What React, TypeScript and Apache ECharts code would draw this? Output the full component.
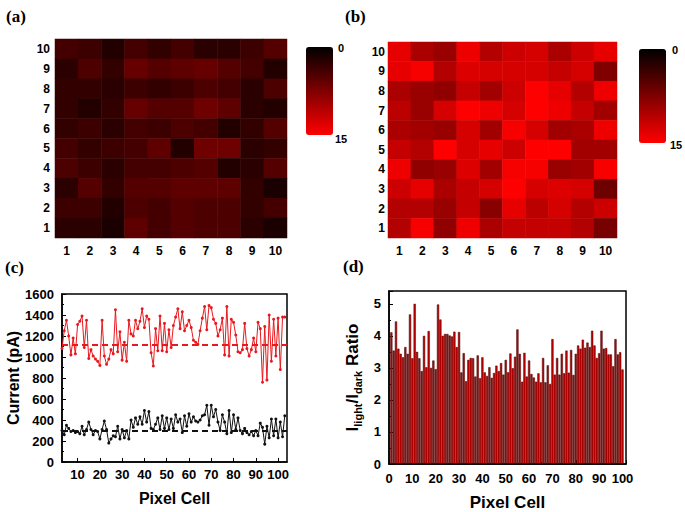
import React, { useEffect, useRef } from 'react';
import * as echarts from 'echarts';

const FONT = '"Liberation Sans", Arial, sans-serif';
const SERIF = '"Liberation Serif", "Times New Roman", serif';

const cellLabels = ['1', '2', '3', '4', '5', '6', '7', '8', '9', '10'];

// rows listed from top (row 10) down to row 1
const darkMap = [
  [4.0, 3.5, 2.0, 4.0, 3.0, 4.0, 2.5, 2.5, 3.5, 5.0],
  [2.5, 4.5, 3.0, 6.0, 5.0, 5.5, 6.0, 5.0, 4.0, 2.0],
  [3.0, 3.0, 2.5, 3.5, 3.0, 3.5, 4.5, 4.0, 2.5, 4.5],
  [3.0, 2.0, 3.0, 6.0, 5.0, 5.0, 6.5, 5.5, 2.5, 2.0],
  [3.0, 3.5, 2.5, 4.0, 3.5, 4.5, 4.0, 2.0, 3.0, 5.0],
  [4.0, 3.0, 3.5, 4.0, 5.5, 2.0, 6.5, 6.5, 2.5, 3.0],
  [4.5, 3.5, 2.5, 4.0, 4.0, 4.5, 5.0, 2.0, 2.5, 5.0],
  [2.5, 5.0, 3.0, 5.0, 5.0, 5.5, 5.5, 5.5, 3.0, 1.5],
  [3.5, 3.5, 2.0, 4.5, 4.0, 5.0, 4.5, 4.5, 3.0, 4.0],
  [2.5, 2.5, 1.5, 5.5, 4.0, 5.0, 4.5, 4.5, 2.5, 1.5],
];

const lightMap = [
  [13.5, 10.0, 9.0, 14.0, 10.5, 12.0, 12.5, 10.0, 12.0, 13.5],
  [13.5, 14.5, 10.5, 13.0, 12.5, 12.5, 12.5, 11.5, 12.5, 7.5],
  [10.0, 9.0, 8.5, 11.5, 9.5, 12.0, 15.0, 13.5, 10.5, 14.0],
  [11.0, 9.0, 12.5, 15.0, 14.0, 12.5, 15.0, 14.0, 11.5, 9.5],
  [10.0, 9.5, 9.0, 12.5, 9.5, 14.5, 12.5, 9.5, 10.0, 14.0],
  [11.5, 10.5, 15.0, 12.5, 13.5, 12.0, 15.0, 15.0, 9.5, 9.5],
  [14.0, 8.5, 9.0, 13.0, 9.5, 14.5, 14.5, 9.0, 9.5, 14.5],
  [12.0, 13.5, 10.0, 11.5, 12.5, 15.0, 12.5, 13.0, 12.5, 6.5],
  [10.5, 10.5, 9.0, 11.5, 8.0, 13.5, 11.0, 12.5, 10.5, 12.0],
  [10.5, 14.5, 8.5, 14.0, 10.0, 11.5, 11.5, 11.5, 10.5, 7.0],
];

const firstPixelC = 3;
const lightCurrent = [
  1080, 1250, 1350, 1200, 1020, 1180, 1030, 1310, 1340, 1390,
  1090, 1350, 985, 1070, 1010, 980, 960, 920, 1350, 1010,
  930, 980, 1070, 1030, 1450, 1050, 1240, 970, 1140, 960,
  1350, 1220, 1200, 1350, 1270, 1340, 1460, 1280, 1390, 1360,
  1040, 915, 1270, 1060, 1390, 1060, 1320, 1050, 1260, 1090,
  1300, 1380, 1460, 1270, 1430, 1250, 1300, 1350, 1280, 1160,
  1140, 1120, 1250, 1370, 1480, 1260, 1490, 1470, 1360, 1320,
  1200, 1260, 1370, 1020, 1480, 1010, 1360, 1330, 1210, 1050,
  1040, 1070, 1320, 1080, 1010, 1070, 1180, 1050, 1330, 1270,
  760, 1290, 780, 1400, 960, 1360, 1010, 1370, 880, 1380,
  1380,
];
const darkCurrent = [
  300, 260, 350, 320, 290, 300, 280, 290, 270, 340,
  260, 310, 380, 310, 260, 300, 290, 220, 310, 390,
  310, 180, 220, 250, 240, 340, 220, 310, 230, 300,
  220, 400, 330, 420, 360, 430, 360, 490, 380, 480,
  320, 310, 360, 420, 310, 440, 320, 420, 310, 410,
  320, 450, 380, 410, 280, 440, 340, 460, 380, 430,
  390, 380, 400, 440, 450, 540, 350, 540, 430, 500,
  380, 300, 450, 380, 270, 490, 280, 450, 310, 420,
  300, 270, 320, 280, 260, 290, 250, 300, 250, 370,
  330, 170, 340, 230, 410, 250, 410, 230, 380, 240,
  440,
];
const lightMean = 1120;
const darkMean = 300;
const pixelTicksC = [10, 20, 30, 40, 50, 60, 70, 80, 90, 100];

const ratio = [
  4.11, 3.54, 4.45, 3.6, 3.44, 3.33, 3.65, 3.44, 4.67, 3.3,
  5.0, 3.5, 3.3, 2.9, 4.0, 3.02, 4.15, 3.0, 3.23, 2.96,
  4.98, 4.51, 4.0, 4.06, 4.06, 4.01, 3.98, 4.13, 3.65, 4.12,
  2.86, 3.46, 2.58, 3.25, 3.31, 3.3, 2.73, 3.39, 2.68, 3.33,
  2.86, 2.75, 3.02, 2.69, 2.84, 3.07, 2.9, 3.15, 2.79, 3.25,
  2.86, 3.45, 2.99, 3.35, 4.2, 3.44, 2.57, 3.47, 2.73, 3.23,
  2.81, 2.7, 2.57, 2.83, 2.55, 3.31, 2.55, 3.08, 2.5, 3.9,
  2.79, 3.31, 2.79, 3.44, 2.83, 3.54, 2.85, 3.56, 2.78, 3.44,
  3.7, 3.6, 3.88, 3.63, 3.79, 3.65, 4.16, 3.7, 3.31, 3.46,
  4.16, 3.6, 3.62, 3.42, 3.42, 3.05, 3.9, 3.42, 3.49, 2.95,
];

function toCells(rows: number[][]) {
  const out: number[][] = [];
  rows.forEach((row, i) => {
    row.forEach((v, j) => out.push([j, 9 - i, v]));
  });
  return out;
}

const plain = (v: number) => String(v);
const tickLabel = { fontFamily: FONT, fontWeight: 'bold', fontSize: 13, color: '#000' };

function heatAxes(gi: number, xm: number, ym: number) {
  return {
    x: {
      type: 'category', gridIndex: gi, data: cellLabels,
      axisLine: { show: false }, axisTick: { show: false }, splitLine: { show: false },
      axisLabel: { ...tickLabel, fontSize: 12, margin: xm },
    },
    y: {
      type: 'category', gridIndex: gi, data: cellLabels,
      axisLine: { show: false }, axisTick: { show: false }, splitLine: { show: false },
      axisLabel: { ...tickLabel, fontSize: 12, margin: ym },
    },
  };
}

export default function App() {
  const ref = useRef<HTMLDivElement>(null);
  useEffect(() => {
    if (!ref.current) return;
    const chart = echarts.init(ref.current, undefined, { renderer: 'svg' });
    const ha = heatAxes(0, 7, 5);
    const hb = heatAxes(1, 7, 3);
    const lineData = (arr: number[]) => arr.map((v, i) => [firstPixelC + i, v]);
    const black = '#000';
    const frameAxisLine = { show: true, lineStyle: { color: black, width: 1.5 } };
    const option: any = {
      animation: false,
      textStyle: { fontFamily: FONT },
      grid: [
        { left: 55, top: 39, width: 232, height: 199 },
        { left: 388, top: 42, width: 229, height: 196 },
        { left: 62, top: 294, width: 225, height: 168, show: true, borderColor: black, borderWidth: 1.5 },
        { left: 389, top: 291, width: 237, height: 173, show: true, borderColor: black, borderWidth: 1.5 },
      ],
      xAxis: [
        ha.x,
        hb.x,
        {
          type: 'value', gridIndex: 2, min: 3, max: 104,
          axisLine: frameAxisLine,
          axisTick: { inside: true, length: 4, customValues: pixelTicksC, lineStyle: { color: black, width: 1 } },
          axisLabel: { ...tickLabel, margin: 6, customValues: pixelTicksC, formatter: plain },
          splitLine: { show: false },
          name: 'Pixel Cell', nameLocation: 'middle', nameGap: 28,
          nameTextStyle: { fontFamily: FONT, fontWeight: 'bold', fontSize: 16, color: black },
        },
        {
          type: 'value', gridIndex: 3, min: 0, max: 101.5, interval: 10,
          axisLine: frameAxisLine,
          axisTick: { inside: true, length: 4, lineStyle: { color: black, width: 1 } },
          minorTick: { show: true, splitNumber: 2, length: 2, lineStyle: { color: black } },
          axisLabel: { ...tickLabel, margin: 8, showMaxLabel: false, formatter: plain },
          splitLine: { show: false },
          name: 'Pixel Cell', nameLocation: 'middle', nameGap: 30,
          nameTextStyle: { fontFamily: FONT, fontWeight: 'bold', fontSize: 17, color: black },
        },
      ],
      yAxis: [
        ha.y,
        hb.y,
        {
          type: 'value', gridIndex: 2, min: 0, max: 1600, interval: 200,
          axisLine: frameAxisLine,
          axisTick: { inside: true, length: 4, lineStyle: { color: black, width: 1 } },
          minorTick: { show: true, splitNumber: 2, length: 2, lineStyle: { color: black } },
          axisLabel: { ...tickLabel, margin: 8, formatter: plain },
          splitLine: { show: false },
          name: 'Current (pA)', nameLocation: 'middle', nameGap: 40, nameRotate: 90,
          nameTextStyle: { fontFamily: FONT, fontWeight: 'bold', fontSize: 16, color: black },
        },
        {
          type: 'value', gridIndex: 3, min: 0, max: 5.4, interval: 1,
          axisLine: frameAxisLine,
          axisTick: { inside: true, length: 4, lineStyle: { color: black, width: 1 } },
          minorTick: { show: true, splitNumber: 2, length: 2, lineStyle: { color: black } },
          axisLabel: { ...tickLabel, margin: 8, showMaxLabel: false, formatter: plain },
          splitLine: { show: false },
          name: '{b|I}{s|light}{b|/I}{s|dark}{b| Ratio}', nameLocation: 'middle', nameGap: 26, nameRotate: 90,
          nameTextStyle: {
            fontFamily: FONT, fontWeight: 'bold', fontSize: 17, color: black,
            rich: {
              b: { fontFamily: FONT, fontWeight: 'bold', fontSize: 17, lineHeight: 22, color: black },
              s: { fontFamily: FONT, fontWeight: 'bold', fontSize: 11, lineHeight: 11, verticalAlign: 'bottom', color: black },
            },
          },
        },
      ],
      visualMap: [
        {
          type: 'continuous', seriesIndex: 0, min: 0, max: 15, inverse: true, calculable: false,
          left: 306, top: 47, itemWidth: 27, itemHeight: 88, padding: 0, text: null,
          inRange: { color: ['#000000', '#ff0000'] },
        },
        {
          type: 'continuous', seriesIndex: 1, min: 0, max: 15, inverse: true, calculable: false,
          left: 639, top: 49, itemWidth: 27, itemHeight: 94, padding: 0, text: null,
          inRange: { color: ['#000000', '#ff0000'] },
        },
      ],
      series: [
        { type: 'heatmap', xAxisIndex: 0, yAxisIndex: 0, data: toCells(darkMap), itemStyle: { borderWidth: 0 } },
        { type: 'heatmap', xAxisIndex: 1, yAxisIndex: 1, data: toCells(lightMap), itemStyle: { borderWidth: 0 } },
        {
          type: 'line', xAxisIndex: 2, yAxisIndex: 2, data: lineData(lightCurrent),
          symbol: 'circle', symbolSize: 3, lineStyle: { color: '#e8191e', width: 1 }, itemStyle: { color: '#e8191e' },
          markLine: {
            silent: true, symbol: ['none', 'none'], label: { show: false },
            lineStyle: { type: [6, 4], width: 2, color: '#e8191e' }, data: [{ yAxis: lightMean }],
          },
        },
        {
          type: 'line', xAxisIndex: 2, yAxisIndex: 2, data: lineData(darkCurrent),
          symbol: 'circle', symbolSize: 3, lineStyle: { color: '#111', width: 1 }, itemStyle: { color: '#111' },
          markLine: {
            silent: true, symbol: ['none', 'none'], label: { show: false },
            lineStyle: { type: [6, 4], width: 2, color: '#111' }, data: [{ yAxis: darkMean }],
          },
        },
        {
          type: 'bar', xAxisIndex: 3, yAxisIndex: 3, data: ratio.map((v, i) => [i + 1, v]),
          barWidth: 2.2, itemStyle: { color: '#c40000', borderColor: '#3a0000', borderWidth: 0.5 },
        },
      ],
      graphic: [
        { type: 'text', left: 6, top: 8, style: { text: '(a)', font: `bold 17px ${SERIF}`, fill: black } },
        { type: 'text', left: 345, top: 8, style: { text: '(b)', font: `bold 17px ${SERIF}`, fill: black } },
        { type: 'text', left: 5, top: 259, style: { text: '(c)', font: `bold 17px ${SERIF}`, fill: black } },
        { type: 'text', left: 343, top: 258, style: { text: '(d)', font: `bold 17px ${SERIF}`, fill: black } },
        { type: 'text', left: 338, top: 42, style: { text: '0', font: `bold 11px ${FONT}`, fill: black } },
        { type: 'text', left: 335, top: 133, style: { text: '15', font: `bold 11px ${FONT}`, fill: black } },
        { type: 'text', left: 672, top: 44, style: { text: '0', font: `bold 11px ${FONT}`, fill: black } },
        { type: 'text', left: 670, top: 139, style: { text: '15', font: `bold 11px ${FONT}`, fill: black } },
      ],
    };
    chart.setOption(option);
    return () => chart.dispose();
  }, []);
  return <div ref={ref} style={{ position: 'absolute', left: 0, top: 0, width: 685, height: 512, background: '#fff' }} />;
}
